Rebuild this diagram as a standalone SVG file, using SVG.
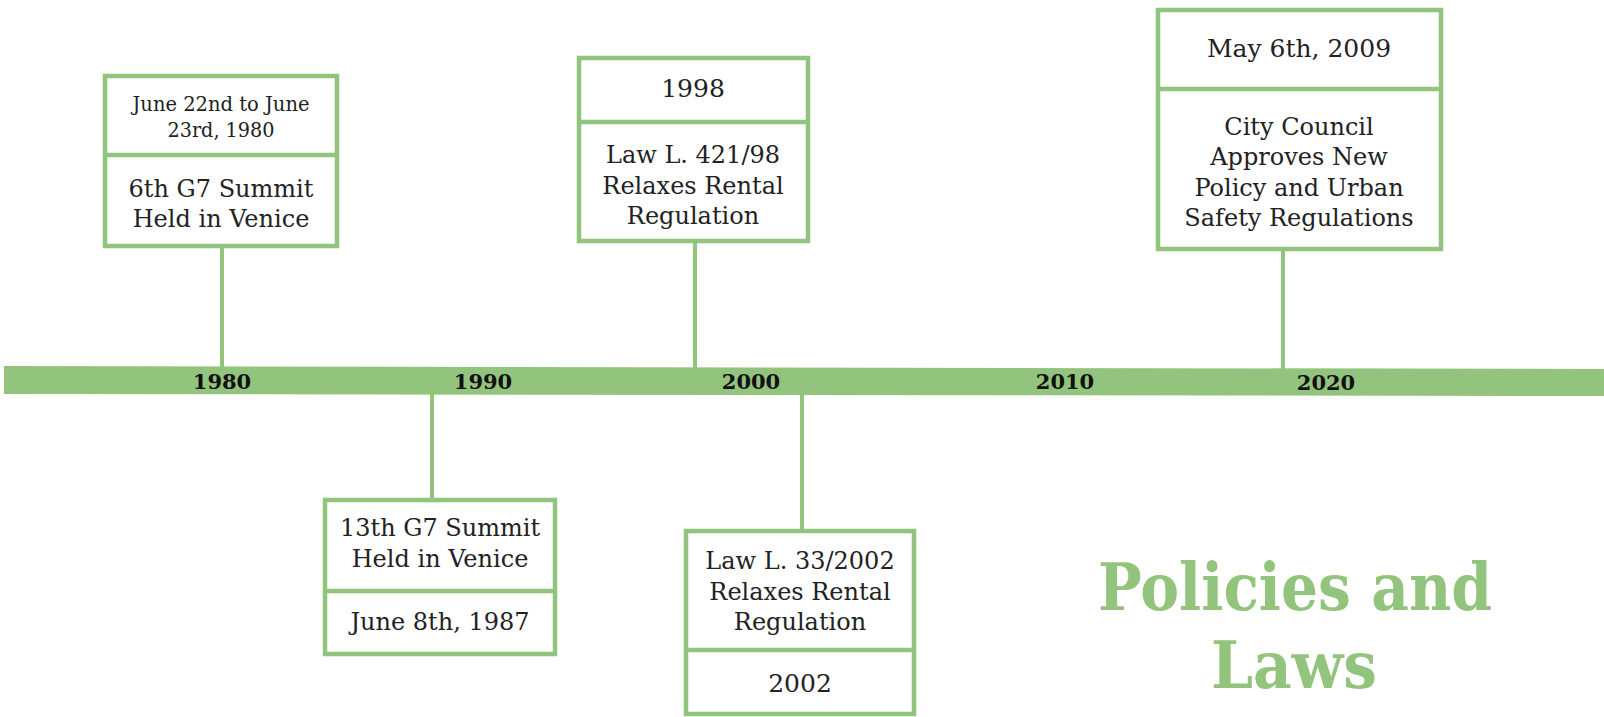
<svg xmlns="http://www.w3.org/2000/svg" width="1604" height="717" viewBox="0 0 1604 717">
  <style>
    .box { fill: #ffffff; stroke: #93c47d; stroke-width: 4.5; }
    .div { stroke: #93c47d; stroke-width: 4.5; }
    .stem { stroke: #93c47d; stroke-width: 4; }
    .txt { font-family: "DejaVu Serif", "Liberation Serif", serif; font-size: 24px; fill: #222222; text-anchor: middle; }
    .small { font-size: 20px; }
    .date { font-size: 25px; }
    .year { font-family: "DejaVu Serif", "Liberation Serif", serif; font-size: 21px; font-weight: bold; fill: #111111; text-anchor: middle; }
    .title { font-family: "DejaVu Serif", "Liberation Serif", serif; font-size: 66px; font-weight: bold; fill: #93c47d; text-anchor: middle; }
  </style>
  <rect width="1604" height="717" fill="#ffffff"/>

  <!-- stems linking each card to the time axis -->
  <g id="connectors">
    <line class="stem" x1="222" y1="245" x2="222" y2="370"/>
    <line class="stem" x1="695" y1="242" x2="695" y2="370"/>
    <line class="stem" x1="1283" y1="250" x2="1283" y2="371"/>
    <line class="stem" x1="432" y1="392" x2="432" y2="500"/>
    <line class="stem" x1="802" y1="392" x2="802" y2="531"/>
  </g>

  <!-- time axis -->
  <g id="axis">
    <polygon points="4,366 1604,369 1604,396 4,394" fill="#93c47d"/>
    <text class="year" x="222" y="389">1980</text>
    <text class="year" x="483" y="389">1990</text>
    <text class="year" x="751" y="389">2000</text>
    <text class="year" x="1065" y="389">2010</text>
    <text class="year" x="1326" y="390">2020</text>
  </g>

  <g id="event-1980">
    <rect class="box" x="105" y="76" width="232" height="170"/>
    <line class="div" x1="105" y1="155" x2="337" y2="155"/>
    <text class="txt small" x="221" y="111" textLength="177" lengthAdjust="spacingAndGlyphs">June 22nd to June</text>
    <text class="txt small" x="221" y="137" textLength="107" lengthAdjust="spacingAndGlyphs">23rd, 1980</text>
    <text class="txt" x="221" y="197">6th G7 Summit</text>
    <text class="txt" x="221" y="227">Held in Venice</text>
  </g>

  <g id="event-1998">
    <rect class="box" x="579" y="58" width="229" height="183"/>
    <line class="div" x1="579" y1="122" x2="808" y2="122"/>
    <text class="txt date" x="693" y="97">1998</text>
    <text class="txt" x="693" y="163">Law L. 421/98</text>
    <text class="txt" x="693" y="194">Relaxes Rental</text>
    <text class="txt" x="693" y="224">Regulation</text>
  </g>

  <g id="event-2009">
    <rect class="box" x="1158" y="10" width="283" height="239"/>
    <line class="div" x1="1158" y1="89" x2="1441" y2="89"/>
    <text class="txt date" x="1299" y="57">May 6th, 2009</text>
    <text class="txt" x="1299" y="135">City Council</text>
    <text class="txt" x="1299" y="165">Approves New</text>
    <text class="txt" x="1299" y="196">Policy and Urban</text>
    <text class="txt" x="1299" y="226">Safety Regulations</text>
  </g>

  <g id="event-1987">
    <rect class="box" x="325" y="500" width="230" height="154"/>
    <line class="div" x1="325" y1="591" x2="555" y2="591"/>
    <text class="txt" x="440" y="536">13th G7 Summit</text>
    <text class="txt" x="440" y="567">Held in Venice</text>
    <text class="txt" x="440" y="630">June 8th, 1987</text>
  </g>

  <g id="event-2002">
    <rect class="box" x="686" y="531" width="228" height="183"/>
    <line class="div" x1="686" y1="650" x2="914" y2="650"/>
    <text class="txt" x="800" y="569">Law L. 33/2002</text>
    <text class="txt" x="800" y="600">Relaxes Rental</text>
    <text class="txt" x="800" y="630">Regulation</text>
    <text class="txt date" x="800" y="692">2002</text>
  </g>

  <g id="title">
    <text class="title" x="1295" y="610" textLength="394" lengthAdjust="spacingAndGlyphs">Policies and</text>
    <text class="title" x="1294" y="688" textLength="166" lengthAdjust="spacingAndGlyphs">Laws</text>
  </g>
</svg>
